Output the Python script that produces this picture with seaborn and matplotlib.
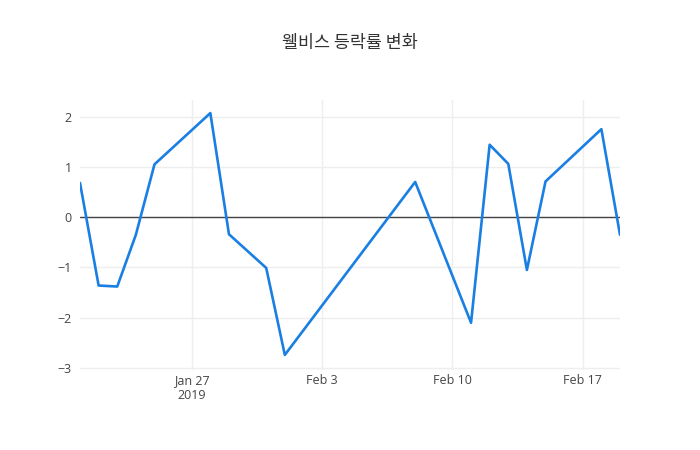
import pandas as pd
import seaborn as sns
import matplotlib.pyplot as plt

# 웰비스 등락률 (%)
dates = ["2019-01-21", "2019-01-22", "2019-01-23", "2019-01-24", "2019-01-25",
         "2019-01-28", "2019-01-29", "2019-01-31", "2019-02-01", "2019-02-08",
         "2019-02-11", "2019-02-12", "2019-02-13", "2019-02-14", "2019-02-15",
         "2019-02-18", "2019-02-19"]
rates = [0.68, -1.36, -1.38, -0.35, 1.05,
         2.07, -0.34, -1.01, -2.74, 0.70,
         -2.10, 1.44, 1.06, -1.05, 0.71,
         1.75, -0.35]
tick_dates = ["2019-01-27", "2019-02-03", "2019-02-10", "2019-02-17"]
tick_labels = ["Jan 27\n2019", "Feb 3", "Feb 10", "Feb 17"]
y_ticks = [-3, -2, -1, 0, 1, 2]

df = pd.DataFrame({"date": pd.to_datetime(dates), "rate": rates})

sns.set_style("white")
plt.rcParams["font.family"] = ["Open Sans", "Noto Sans CJK KR", "DejaVu Sans"]

fig = plt.figure(figsize=(7, 4.5), dpi=100)
ax = fig.add_axes([80 / 700, 80 / 450, 540 / 700, 270 / 450])

sns.lineplot(data=df, x="date", y="rate", ax=ax, color="#1a7fe3", linewidth=1.9, zorder=3)
ax.axhline(0, color="#444444", linewidth=1, zorder=2)

ax.set_xlim(df["date"].min(), df["date"].max())
ax.set_ylim(-3.04, 2.33)
ax.set_xticks(pd.to_datetime(tick_dates))
ax.set_xticklabels(tick_labels)
ax.set_yticks(y_ticks)
ax.set_yticklabels(["\u22123", "\u22122", "\u22121", "0", "1", "2"])

ax.grid(True, color="#eeeeee", linewidth=1)
ax.set_axisbelow(True)
for s in ax.spines.values():
    s.set_visible(False)
ax.tick_params(axis="y", length=0, labelsize=9, colors="#444444", pad=6)
ax.tick_params(axis="x", length=0, labelsize=9, colors="#444444", pad=3)
ax.set_xlabel("")
ax.set_ylabel("")

fig.text(0.5, 1 - 43 / 450, "웰비스 등락률 변화", ha="center", va="center",
         fontsize=12.5, color="#333333", family=["Noto Sans CJK KR", "DejaVu Sans"])

fig.savefig("out.png", dpi=100, facecolor="white")
